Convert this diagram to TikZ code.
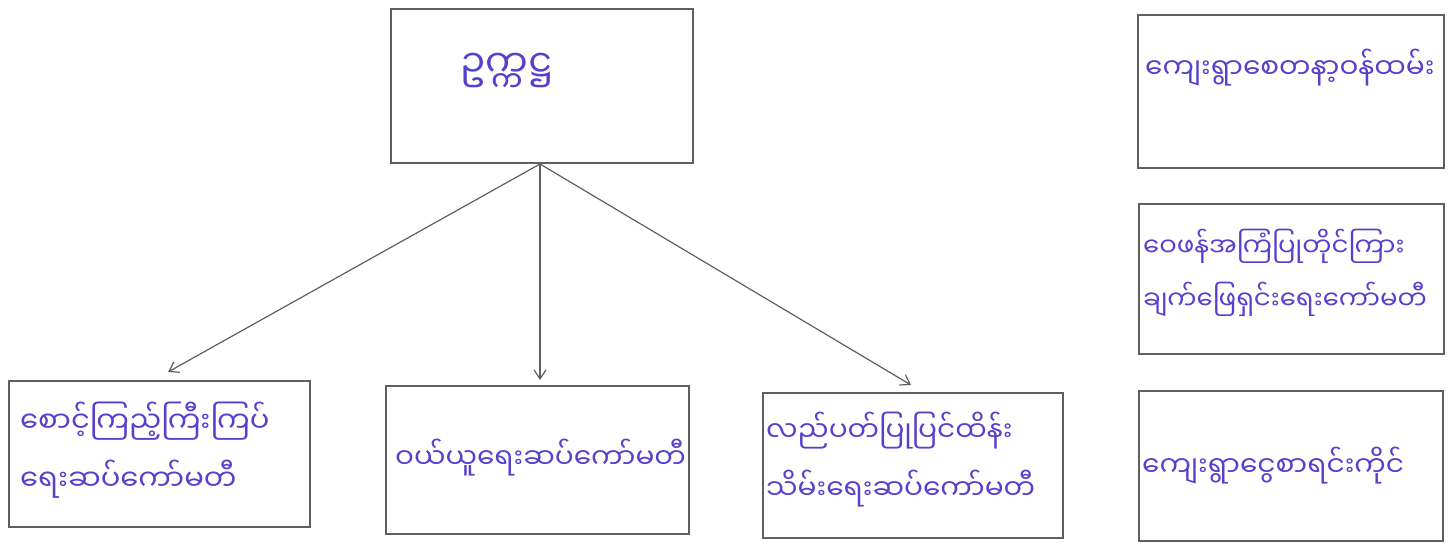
\documentclass[tikz,border=0pt]{standalone}
\usepackage{fontspec}
\newfontfamily\mya[Script=Myanmar]{Noto Sans Myanmar UI}
\usetikzlibrary{arrows.meta}
\definecolor{ink}{RGB}{84,66,206}
\definecolor{pencil}{RGB}{95,95,95}
\tikzset{
  box/.style={draw=pencil, line width=1.6pt, rectangle, anchor=north west, inner sep=0pt},
  lbl/.style={text=ink, font=\mya\fontsize{27}{56}\selectfont, inner sep=0pt, anchor=west, align=left},
  conn/.style={draw=pencil, line width=1.2pt, -{Straight Barb[length=9pt,width=12pt]}}
}
\begin{document}
\begin{tikzpicture}[x=1pt,y=-1pt]
\useasboundingbox (0,0) rectangle (1451,542);
% boxes
\node[box, minimum width=302pt, minimum height=154pt] (top) at (390,8) {};
\node[box, minimum width=306pt, minimum height=153pt] (rv) at (1137,14) {};
\node[box, minimum width=305pt, minimum height=150pt] (rc) at (1138,203) {};
\node[box, minimum width=304pt, minimum height=150pt] (ra) at (1138,390) {};
\node[box, minimum width=301pt, minimum height=146pt] (bl) at (8,380) {};
\node[box, minimum width=303pt, minimum height=148pt] (bm) at (385,385) {};
\node[box, minimum width=300pt, minimum height=145pt] (br) at (762,392) {};
% labels
\node[lbl, font=\mya\fontsize{38}{56}\selectfont] (ttop) at (460,70) {ဥက္ကဋ္ဌ};
\node[lbl, font=\mya\fontsize{28}{56}\selectfont] (trv) at (1145,68) {ကျေးရွာစေတနာ့ဝန်ထမ်း};
\node[lbl, font=\mya\fontsize{26}{53}\selectfont] (trc) at (1143,273) {ဝေဖန်အကြံပြုတိုင်ကြား\\ချက်ဖြေရှင်းရေးကော်မတီ};
\node[lbl, font=\mya\fontsize{28}{56}\selectfont] (tra) at (1142,466) {ကျေးရွာငွေစာရင်းကိုင်};
\node[lbl, font=\mya\fontsize{29}{58}\selectfont] (tbl) at (20,450) {စောင့်ကြည့်ကြီးကြပ်\\ရေးဆပ်ကော်မတီ};
\node[lbl, font=\mya\fontsize{28}{56}\selectfont] (tbm) at (395,458) {ဝယ်ယူရေးဆပ်ကော်မတီ};
\node[lbl, font=\mya\fontsize{28}{58}\selectfont] (tbr) at (766,460) {လည်ပတ်ပြုပြင်ထိန်း\\သိမ်းရေးဆပ်ကော်မတီ};
% connectors
\coordinate (s) at (540,164);
\coordinate (e1) at (168,372);
\coordinate (e2) at (540,380);
\coordinate (e3) at (911,385);
\draw[conn] (s) -- (e1);
\draw[conn] (s) -- (e2);
\draw[conn] (s) -- (e3);
\end{tikzpicture}
\end{document}
